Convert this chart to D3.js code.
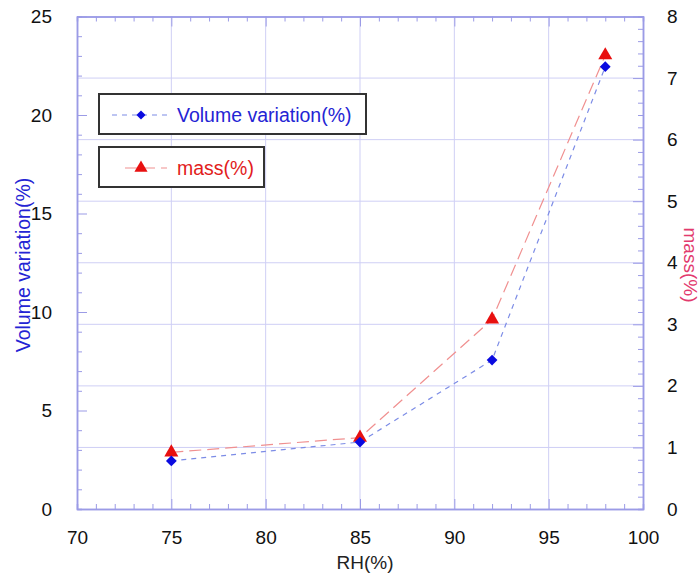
<!DOCTYPE html>
<html><head><meta charset="utf-8">
<script src="https://cdn.jsdelivr.net/npm/d3@7"></script>
<style>body{margin:0;background:#fff;} text{font-family:"Liberation Sans",Arial,sans-serif;}</style>
</head><body>
<svg id="c" width="700" height="576"></svg>
<script>
const rh = [75, 85, 92, 98];
const volume = [2.44, 3.40, 7.56, 22.45];
const mass = [0.92, 1.16, 3.08, 7.37];
const xTicks = [70, 75, 80, 85, 90, 95, 100];
const yLeftTicks = [0, 5, 10, 15, 20, 25];
const yRightTicks = [0, 1, 2, 3, 4, 5, 6, 7, 8];

const L = 77, R = 643, T = 16.5, B = 509;
const svg = d3.select("#c");
const x = d3.scaleLinear().domain([70, 100]).range([L, R]);
const yL = d3.scaleLinear().domain([0, 25]).range([B, T]);
const yR = d3.scaleLinear().domain([0, 8]).range([B, T]);
const axisCol = "#9b9be6", gridCol = "#cfcff5";

const g = svg.append("g");
g.selectAll(".vg").data(xTicks.filter(d => d > 70 && d < 100)).enter().append("line")
  .attr("x1", d => x(d)).attr("x2", d => x(d)).attr("y1", T).attr("y2", B)
  .attr("stroke", gridCol).attr("stroke-width", 1);
g.selectAll(".hg").data(yRightTicks.filter(d => d > 0 && d < 8)).enter().append("line")
  .attr("x1", L).attr("x2", R).attr("y1", d => yR(d)).attr("y2", d => yR(d))
  .attr("stroke", gridCol).attr("stroke-width", 1);

function styleAxis(sel) {
  sel.selectAll("path").attr("stroke", axisCol).attr("stroke-width", 1.5);
  sel.selectAll("line").attr("stroke", axisCol).attr("stroke-width", 1);
  sel.selectAll("text").attr("fill", "#111").attr("font-size", 19).style("font-family", "Liberation Sans, Arial, sans-serif");
}
function minor(axisGen, scale, vals, size) {
  return axisGen(scale).tickValues(vals).tickSize(size).tickFormat("");
}
const xMinor = d3.range(70, 101, 1).filter(d => d % 5 !== 0);
const yLMinor = d3.range(0, 26, 1).filter(d => d % 5 !== 0);
const yRMinor = d3.range(0, 8.01, 0.2).map(d => +d.toFixed(1)).filter(d => Math.abs(d - Math.round(d)) > 0.01);

svg.append("g").attr("transform", `translate(0,${B})`)
  .call(d3.axisBottom(x).tickValues(xTicks).tickSizeInner(-10).tickSizeOuter(0).tickPadding(22).tickFormat(d3.format("d")))
  .call(styleAxis);
svg.append("g").attr("transform", `translate(0,${B})`).call(minor(d3.axisBottom, x, xMinor, -5)).call(styleAxis);
svg.append("g").attr("transform", `translate(0,${T})`)
  .call(d3.axisTop(x).tickValues(xTicks).tickSizeInner(-10).tickSizeOuter(0).tickFormat("")).call(styleAxis);
svg.append("g").attr("transform", `translate(0,${T})`).call(minor(d3.axisTop, x, xMinor, -5)).call(styleAxis);
svg.append("g").attr("transform", `translate(${L},0)`)
  .call(d3.axisLeft(yL).tickValues(yLeftTicks).tickSizeInner(-10).tickSizeOuter(0).tickPadding(25).tickFormat(d3.format("d")))
  .call(styleAxis);
svg.append("g").attr("transform", `translate(${L},0)`).call(minor(d3.axisLeft, yL, yLMinor, -5)).call(styleAxis);
svg.append("g").attr("transform", `translate(${R},0)`)
  .call(d3.axisRight(yR).tickValues(yRightTicks).tickSizeInner(-10).tickSizeOuter(0).tickPadding(24).tickFormat(d3.format("d")))
  .call(styleAxis);
svg.append("g").attr("transform", `translate(${R},0)`).call(minor(d3.axisRight, yR, yRMinor, -5)).call(styleAxis);

svg.append("text").attr("x", 365).attr("y", 569).attr("text-anchor", "middle").attr("font-size", 19).attr("fill", "#222").text("RH(%)");
svg.append("text").attr("transform", "translate(30,265) rotate(-90)").attr("text-anchor", "middle").attr("font-size", 19.5).attr("fill", "#2424d4").text("Volume variation(%)");
svg.append("text").attr("transform", "translate(684,265) rotate(90)").attr("text-anchor", "middle").attr("font-size", 19).attr("fill", "#e23a6e").text("mass(%)");

const volData = rh.map((d, i) => [d, volume[i]]);
const massData = rh.map((d, i) => [d, mass[i]]);
svg.append("path").datum(massData)
  .attr("d", d3.line().x(d => x(d[0])).y(d => yR(d[1])))
  .attr("fill", "none").attr("stroke", "#f09090").attr("stroke-width", 1.2).attr("stroke-dasharray", "12,6");
svg.append("path").datum(volData)
  .attr("d", d3.line().x(d => x(d[0])).y(d => yL(d[1])))
  .attr("fill", "none").attr("stroke", "#7c8ce6").attr("stroke-width", 1.2).attr("stroke-dasharray", "5,5");

const diamond = d3.symbol().type(d3.symbolSquare).size(58);
const tri = d3.symbol().type(d3.symbolTriangle).size(85);
svg.selectAll(".tri").data(massData).enter().append("path")
  .attr("d", tri).attr("transform", d => `translate(${x(d[0])},${yR(d[1])})`).attr("fill", "#e81010");
svg.selectAll(".dia").data(volData).enter().append("path")
  .attr("d", diamond).attr("transform", d => `translate(${x(d[0])},${yL(d[1])}) rotate(45)`).attr("fill", "#0a0ae0");

const lg = svg.append("g");
lg.append("rect").attr("x", 99).attr("y", 94).attr("width", 267).attr("height", 40).attr("fill", "#fff").attr("stroke", "#333").attr("stroke-width", 2);
lg.append("line").attr("x1", 112).attr("x2", 170).attr("y1", 115).attr("y2", 115).attr("stroke", "#7c8ce6").attr("stroke-width", 1.2).attr("stroke-dasharray", "5,5");
lg.append("path").attr("d", d3.symbol().type(d3.symbolSquare).size(42)).attr("transform", "translate(141,115) rotate(45)").attr("fill", "#0a0ae0");
lg.append("text").attr("x", 177).attr("y", 122).attr("font-size", 19.5).attr("fill", "#2424d4").text("Volume variation(%)");

lg.append("rect").attr("x", 99).attr("y", 147).attr("width", 165).attr("height", 40).attr("fill", "#fff").attr("stroke", "#333").attr("stroke-width", 2);
lg.append("line").attr("x1", 125).attr("x2", 167).attr("y1", 168).attr("y2", 168).attr("stroke", "#f09090").attr("stroke-width", 1.2).attr("stroke-dasharray", "12,6");
lg.append("path").attr("d", d3.symbol().type(d3.symbolTriangle).size(75)).attr("transform", "translate(141,168)").attr("fill", "#e81010");
lg.append("text").attr("x", 177).attr("y", 175).attr("font-size", 19.5).attr("fill", "#e21c1c").text("mass(%)");
</script>
</body></html>
